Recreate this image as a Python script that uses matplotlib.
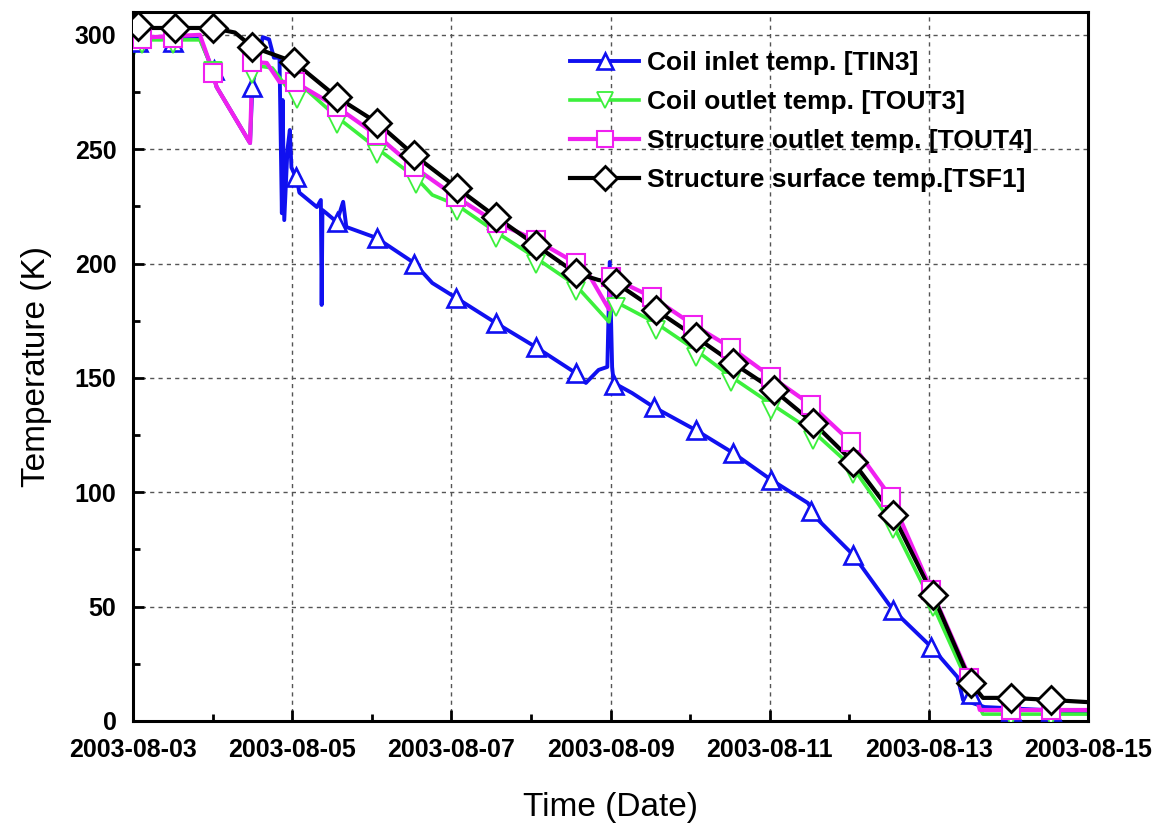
import numpy as np
import pandas as pd
import matplotlib
matplotlib.use('Agg')
import matplotlib.pyplot as plt
import matplotlib.dates as mdates
from matplotlib.lines import Line2D

plt.rcParams['font.family'] = ['Liberation Sans', 'DejaVu Sans']

start = pd.Timestamp('2003-08-03')

# days since 2003-08-03 and temperature (K)
tin3_days = [0.0, 0.84, 0.965, 1.05, 1.47, 1.50, 1.63, 1.71, 1.77, 1.84, 1.87, 1.88, 1.90, 1.94,
             1.97, 1.99, 2.06, 2.09, 2.31, 2.36, 2.37, 2.38, 2.43, 2.56, 2.64, 2.68, 3.06, 3.53,
             3.76, 4.06, 4.56, 5.06, 5.56, 5.69, 5.85, 5.96, 5.99, 6.02, 6.04, 6.27, 6.54, 7.07,
             7.54, 8.02, 8.48, 8.61, 9.05, 9.55, 10.03, 10.36, 10.43, 10.70, 11.97]
tin3_vals = [298.6, 298.6, 287.7, 277.2, 252.7, 278.0, 299.0, 298.0, 290.0, 290.0, 222.0, 271.5,
             219.0, 249.7, 258.4, 242.0, 236.6, 231.0, 224.7, 227.8, 181.9, 223.4, 222.0, 218.2,
             227.0, 216.0, 211.2, 200.3, 191.5, 185.0, 174.0, 163.5, 152.2, 147.8, 153.5, 154.8,
             200.7, 154.8, 147.8, 143.4, 137.3, 127.2, 117.2, 105.4, 95.3, 87.9, 72.6, 48.5, 32.4,
             19.2, 9.2, 6.1, 3.9]
tin3_mk_days = [0.06, 0.5, 1.02, 1.5, 2.05, 2.56, 3.06, 3.53, 4.06, 4.56, 5.06, 5.56, 6.04, 6.54,
                7.07, 7.54, 8.02, 8.52, 9.05, 9.55, 10.03, 10.53, 11.03, 11.53]
tin3_mk_vals = [297, 297, 284.6, 277, 238, 218, 211, 200, 185, 174, 163.5, 152, 147, 137.3,
                127.2, 117.2, 105.4, 92, 72.6, 48.5, 32.4, 12, 4.5, 4.5]

tout3_days = [0.0, 0.09, 0.84, 0.965, 1.05, 1.47, 1.50, 1.75, 1.93, 2.06, 2.18, 2.56, 3.06, 3.56,
              3.76, 4.07, 4.56, 5.06, 5.56, 5.98, 6.02, 6.57, 7.07, 7.52, 8.02, 8.55, 9.05, 9.55,
              10.05, 10.53, 10.68, 11.97]
tout3_vals = [291.2, 297.8, 297.8, 287.7, 277.2, 252.7, 286.8, 285.5, 277.2, 273.7, 275.9, 264.1,
              250.5, 237.4, 230.0, 225.6, 213.8, 202.5, 190.6, 174.5, 184.1, 174.0, 162.2, 150.4,
              138.6, 126.4, 110.6, 85.7, 50.7, 13.6, 3.0, 3.0]
tout3_mk_days = [0.11, 0.5, 1.0, 1.5, 2.06, 2.56, 3.06, 3.56, 4.07, 4.56, 5.06, 5.56, 6.07, 6.57,
                 7.07, 7.52, 8.02, 8.55, 9.05, 9.55, 10.05, 10.53, 11.03, 11.53]
tout3_mk_vals = [296, 296, 284, 283, 272, 261, 248, 235, 223, 211, 200, 188, 181, 171,
                 159, 148, 136, 123, 108, 84, 50, 14, 2, 2]

tout4_days = [0.0, 0.84, 0.965, 1.05, 1.47, 1.50, 1.68, 1.84, 2.03, 2.56, 3.06, 3.53, 4.06, 4.57,
              5.06, 5.56, 5.73, 5.98, 6.0, 6.52, 7.04, 7.52, 8.02, 8.52, 9.02, 9.52, 10.03, 10.58,
              10.64, 11.97]
tout4_vals = [298.6, 300.0, 287.7, 277.2, 252.7, 288.2, 287.7, 279.4, 279.4, 268.5, 256.2, 242.2,
              229.1, 217.8, 210.3, 200.3, 195.0, 180.0, 194.1, 185.4, 173.2, 163.1, 150.4, 138.2,
              122.0, 97.9, 57.3, 13.6, 4.8, 4.8]
tout4_mk_days = [0.11, 0.5, 1.0, 1.5, 2.03, 2.56, 3.06, 3.53, 4.06, 4.57, 5.06, 5.56, 6.0, 6.52,
                 7.04, 7.52, 8.02, 8.52, 9.02, 9.52, 10.03, 10.51, 11.03, 11.53]
tout4_mk_vals = [298.3, 298.6, 283.3, 288.2, 279.4, 268.5, 256.2, 242.2, 229.1, 217.8, 210.3, 200.3,
                 194.1, 185.4, 173.2, 163.1, 150.4, 138.2, 122.0, 97.9, 57.3, 19.0, 4.8, 4.8]

tsf1_days = [0.0, 1.0, 1.28, 1.50, 2.02, 2.56, 3.07, 3.53, 4.07, 4.56, 5.06, 5.56, 5.85, 6.07,
             6.57, 7.07, 7.54, 8.05, 8.55, 9.05, 9.55, 10.05, 10.53, 10.68, 11.03, 11.53, 11.97]
tsf1_vals = [303.0, 303.0, 301.0, 294.7, 288.2, 272.8, 261.5, 247.5, 233.1, 220.4, 208.1, 195.9,
             192.8, 191.5, 179.7, 167.9, 156.5, 144.7, 130.3, 113.2, 90.1, 55.1, 16.6, 10.1,
             10.1, 9.2, 8.3]
tsf1_mk_days = [0.06, 0.53, 1.0, 1.5, 2.02, 2.56, 3.07, 3.53, 4.07, 4.56, 5.06, 5.56, 6.07, 6.57,
                7.07, 7.54, 8.05, 8.55, 9.05, 9.55, 10.05, 10.53, 11.03, 11.53]
tsf1_mk_vals = [304, 303, 303, 294.7, 288.2, 272.8, 261.5, 247.5, 233.1, 220.4, 208.1, 195.9,
                191.5, 179.7, 167.9, 156.5, 144.7, 130.3, 113.2, 90.1, 55.1, 16.6, 10.1, 9.2]

labels = ['Coil inlet temp. [TIN3]', 'Coil outlet temp. [TOUT3]',
          'Structure outlet temp. [TOUT4]', 'Structure surface temp.[TSF1]']


def to_dates(days):
    return start + pd.to_timedelta(np.array(days), unit='D')


fig = plt.figure(figsize=(11.55, 8.31), dpi=100)
ax = fig.add_axes([0.1152, 0.1324, 0.8268, 0.8532])

series = [
    (tin3_days, tin3_vals, tin3_mk_days, tin3_mk_vals, '#1010f0', '^', 13.5, 2.8, 1.9),
    (tout3_days, tout3_vals, tout3_mk_days, tout3_mk_vals, '#3cf03c', 'v', 13, 2.6, 1.3),
    (tout4_days, tout4_vals, tout4_mk_days, tout4_mk_vals, '#f020f0', 's', 13, 3.0, 1.5),
    (tsf1_days, tsf1_vals, tsf1_mk_days, tsf1_mk_vals, 'black', 'D', 14, 3.0, 2.0),
]
line_z = [1.9, 2.0, 2.1, 2.3]
mk_z = [3.0, 3.1, 3.2, 3.3]

handles = []
for (d, v, md, mv, col, mk, ms, lw, mew), lz, mz in zip(series, line_z, mk_z):
    ax.plot(to_dates(d), v, color=col, lw=lw, zorder=lz)
    ax.plot(to_dates(md), mv, linestyle='none', marker=mk, ms=ms, mfc='white',
            mec=col, mew=mew, zorder=mz)
    handles.append(Line2D([], [], color=col, lw=lw, marker=mk, ms=ms * 0.85,
                          mfc='white', mec=col, mew=mew))

ax.set_xlim(pd.Timestamp('2003-08-03'), pd.Timestamp('2003-08-15'))
ax.set_ylim(0, 310)

ax.set_xticks(pd.date_range('2003-08-03', '2003-08-15', freq='2D'))
ax.set_xticks(pd.date_range('2003-08-03', '2003-08-15', freq='1D'), minor=True)
ax.xaxis.set_major_formatter(mdates.DateFormatter('%Y-%m-%d'))
ax.set_yticks(np.arange(0, 301, 50))
ax.set_yticks(np.arange(0, 310, 25), minor=True)

ax.tick_params(which='major', direction='in', length=8, width=2, labelsize=18, pad=12)
ax.tick_params(which='minor', direction='in', length=5, width=2)
for lab in ax.get_xticklabels() + ax.get_yticklabels():
    lab.set_fontweight('bold')

for s in ax.spines.values():
    s.set_linewidth(2.2)

ax.grid(True, which='major', linestyle=(0, (3, 3)), color='#555555', lw=1.0)

ax.set_xlabel('Time (Date)', fontsize=24, labelpad=22)
ax.set_ylabel('Temperature (K)', fontsize=24, labelpad=16)

ax.legend(handles, labels, loc='upper left', bbox_to_anchor=(0.433, 0.978), frameon=False,
          prop={'size': 19, 'weight': 'bold'}, handlelength=2.6, labelspacing=0.57,
          handletextpad=0.3, numpoints=1)

fig.savefig('out.png', dpi=100)
